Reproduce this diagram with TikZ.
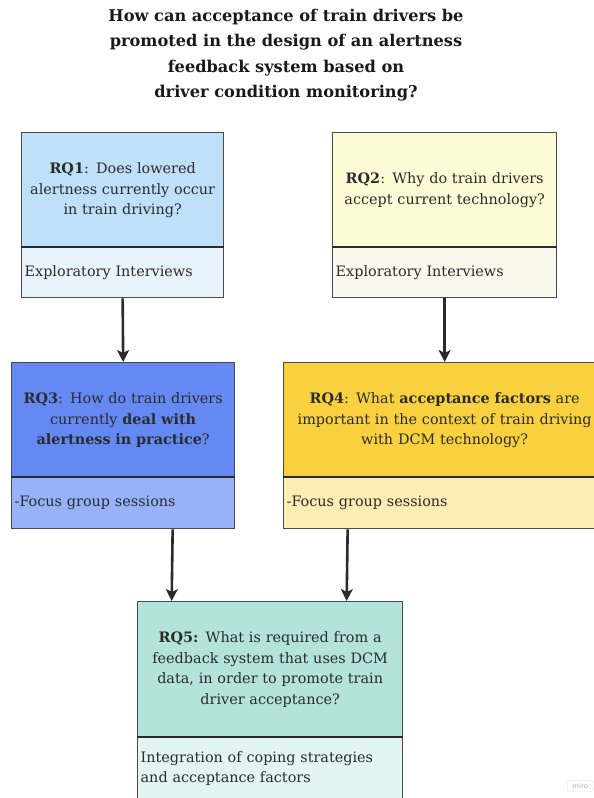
\documentclass[tikz,border=0pt]{standalone}
\usepackage{fontspec}
\setmainfont{DejaVu Serif}
\usetikzlibrary{arrows.meta,calc}

\definecolor{inkdark}{HTML}{2B2B2B}
\definecolor{framegray}{HTML}{4A4A4A}
\definecolor{oneTop}{HTML}{BEE0F8}
\definecolor{oneBot}{HTML}{E7F4FC}
\definecolor{twoTop}{HTML}{FEFCD7}
\definecolor{twoBot}{HTML}{FBF9EE}
\definecolor{threeTop}{HTML}{6589F2}
\definecolor{threeBot}{HTML}{98B2F9}
\definecolor{fourTop}{HTML}{F9D13F}
\definecolor{fourBot}{HTML}{FCEDB5}
\definecolor{fiveTop}{HTML}{B3E3DA}
\definecolor{fiveBot}{HTML}{E3F5F2}

\begin{document}
\begin{tikzpicture}[
  x=1pt, y=-1pt,
  question/.style={draw=framegray, line width=1.3pt, rectangle, anchor=north west,
    inner sep=0pt, align=center, text=inkdark,
    font=\fontsize{14.4}{20.5}\selectfont},
  method/.style={draw=framegray, line width=1.3pt, rectangle, anchor=north west,
    inner xsep=3pt, inner ysep=0pt, align=left, text=inkdark,
    font=\fontsize{14.4}{20.5}\selectfont},
  divider/.style={draw=inkdark, line width=2.4pt},
  conn/.style={draw=inkdark, line width=2.6pt,
    -{Stealth[length=12pt,width=12pt,inset=3pt]}},
]
\useasboundingbox (0,0) rectangle (594,798);
\clip (0,0) rectangle (594,798);

% title
\node[align=center, text=black!90,
      font=\bfseries\fontsize{16.2}{25.3}\selectfont] (title) at (286,55)
  {How can acceptance of train drivers be\\
   promoted in the design of an alertness\\
   feedback system based on\\
   driver condition monitoring?};

% RQ1
\node[question, fill=oneTop, minimum width=202pt, minimum height=115pt,
      text width=196pt] (q1) at (21,132)
  {\textbf{RQ1}: Does lowered\\ alertness currently occur\\ in train driving?};
\node[method, fill=oneBot, minimum width=202pt, minimum height=50pt,
      text width=196pt] (q1m) at (21,247) {Exploratory Interviews};
\draw[divider] (q1m.north west) -- (q1m.north east);

% RQ2
\node[question, fill=twoTop, minimum width=224pt, minimum height=115pt,
      text width=218pt] (q2) at (332,132)
  {\textbf{RQ2}: Why do train drivers\\ accept current technology?};
\node[method, fill=twoBot, minimum width=224pt, minimum height=50pt,
      text width=218pt] (q2m) at (332,247) {Exploratory Interviews};
\draw[divider] (q2m.north west) -- (q2m.north east);

% RQ3
\node[question, fill=threeTop, minimum width=223pt, minimum height=115pt,
      text width=217pt] (q3) at (11,362)
  {\textbf{RQ3}: How do train drivers\\ currently \textbf{deal with}\\
   \textbf{alertness in practice}?};
\node[method, fill=threeBot, minimum width=223pt, minimum height=51pt,
      text width=217pt] (q3m) at (11,477) {-Focus group sessions};
\draw[divider] (q3m.north west) -- (q3m.north east);

% RQ4
\node[question, fill=fourTop, minimum width=322pt, minimum height=115pt,
      text width=316pt] (q4) at (283,362)
  {\textbf{RQ4}: What \textbf{acceptance factors} are\\
   important in the context of train driving\\ with DCM technology?};
\node[method, fill=fourBot, minimum width=322pt, minimum height=51pt,
      text width=316pt] (q4m) at (283,477) {-Focus group sessions};
\draw[divider] (q4m.north west) -- (q4m.north east);

% RQ5
\node[question, fill=fiveTop, minimum width=265pt, minimum height=136pt,
      text width=259pt] (q5) at (137,601)
  {\textbf{RQ5:} What is required from a\\ feedback system that uses DCM\\
   data, in order to promote train\\ driver acceptance?};
\node[method, fill=fiveBot, minimum width=265pt, minimum height=62pt,
      text width=259pt] (q5m) at (137,737)
  {Integration of coping strategies\\ and acceptance factors};
\draw[divider] (q5m.north west) -- (q5m.north east);

% connectors
\draw[conn] (q1m.south) -- (q3.north);
\draw[conn] (q2m.south) -- (q4.north);
\draw[conn] ([xshift=49.5pt]q3m.south) -- ([xshift=-98.5pt]q5.north);
\draw[conn] ([xshift=-97pt]q4m.south) -- ([xshift=76.5pt]q5.north);

% board badge
\node[draw=black!7, rounded corners=1.5pt, line width=0.6pt, text=black!30,
      font=\sffamily\fontsize{8}{9}\selectfont, inner xsep=5pt, inner ysep=3pt,
      anchor=west] (badge) at (567,786) {miro};
\end{tikzpicture}
\end{document}
